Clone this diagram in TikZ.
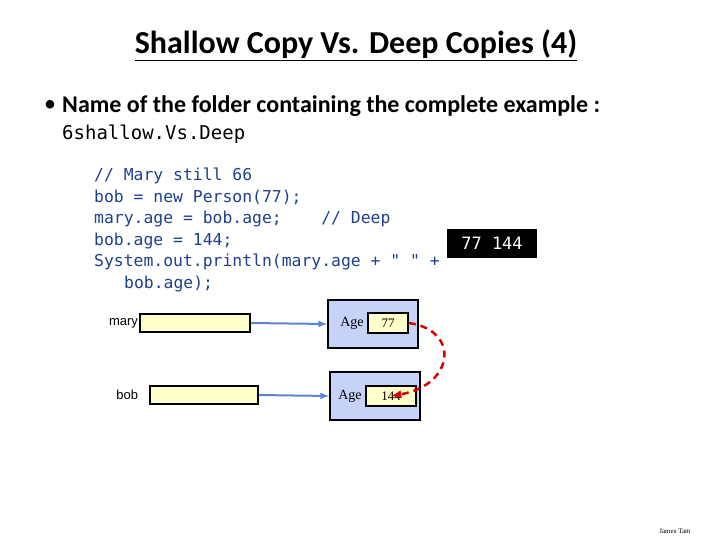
\documentclass[tikz,border=0pt]{standalone}
\usepackage{fontspec}
\setmainfont{Carlito}
\newfontfamily\codefont{DejaVu Sans Mono}
\newfontfamily\labelfont{Liberation Sans}
\newfontfamily\valfont{Liberation Serif}
\usetikzlibrary{positioning}
\definecolor{codeblue}{HTML}{1F3F8F}
\definecolor{refyellow}{HTML}{FFFFCC}
\definecolor{objblue}{HTML}{C6D2F7}
\definecolor{linkblue}{HTML}{5B86D6}
\tikzset{
  refbox/.style={draw,fill=refyellow,line width=1.6pt,minimum width=#1,minimum height=18pt,inner sep=0pt},
  objbox/.style={draw,fill=objblue,line width=1.6pt,minimum width=90pt,minimum height=48pt,inner sep=0pt},
  valbox/.style={draw,fill=refyellow,line width=1.6pt,minimum width=40pt,minimum height=20pt,inner sep=0pt,font=\valfont\fontsize{13}{13}\selectfont},
  codeline/.style={anchor=west,inner sep=0pt,text=codeblue,font=\codefont\fontsize{16.4}{16.4}\selectfont},
  link/.style={linkblue,line width=2pt,-latex}
}
\begin{document}
\begin{tikzpicture}[x=1pt,y=-1pt]
  \useasboundingbox (0,0) rectangle (720,540);
  % title and bullet
  \node (title) at (356,45) {\fontsize{32}{32}\selectfont\bfseries\underline{Shallow Copy Vs. Deep Copies (4)}};
  \node[anchor=west,inner sep=0pt] (dot) at (44,106) {\fontsize{24}{24}\selectfont\textbullet};
  \node[anchor=west,inner sep=0pt] (bullet) at (62,106) {\fontsize{24}{24}\selectfont\textbf{Name of the folder containing the complete example :}};
  \node[anchor=west,inner sep=0pt] (folder) at (62,134) {\codefont\fontsize{19}{19}\selectfont 6shallow.Vs.Deep};
  % code
  \node[codeline] (c1) at (94,176) {// Mary still 66};
  \node[codeline] (c2) at (94,197) {bob = new Person(77);};
  \node[codeline] (c3) at (94,219) {mary.age = bob.age;\ \ \ \ // Deep};
  \node[codeline] (c4) at (94,241) {bob.age = 144;};
  \node[codeline] (c5) at (94,262) {System.out.println(mary.age + " " +};
  \node[codeline] (c6) at (124,284) {bob.age);};
  \node[fill=black,text=white,minimum width=90pt,minimum height=29pt,inner sep=0pt,font=\codefont\fontsize{17}{17}\selectfont] (out) at (492,243.5) {77 144};
  % references and objects
  \node[refbox=110pt] (maryref) at (195,323) {};
  \node[left=0pt of maryref,inner sep=1pt,font=\labelfont\fontsize{13}{13}\selectfont] (mary) {mary};
  \node[refbox=108pt] (bobref) at (204,395) {};
  \node[left=10pt of bobref,inner sep=1pt,font=\labelfont\fontsize{13}{13}\selectfont] (bob) {bob};
  \node[objbox] (maryobj) at (373,324) {};
  \node[valbox] (maryval) at (388,323) {77};
  \node[anchor=east,font=\valfont\fontsize{14}{14}\selectfont] (maryage) at (maryval.west) {Age};
  \node[objbox] (bobobj) at (375,396) {};
  \node[valbox,minimum width=50pt] (bobval) at (391,396) {144};
  \node[anchor=east,font=\valfont\fontsize{14}{14}\selectfont] (bobage) at (bobval.west) {Age};
  \draw[link] (maryref.east) -- (maryobj.west);
  \draw[link] (bobref.east) -- (bobobj.west);
  \draw[red!85!black,line width=2.5pt,dash pattern=on 7pt off 5pt,-latex]
    (maryval.east) .. controls (460,330) and (455,385) .. (bobval.center);
  % footer
  \node[font=\valfont\fontsize{7}{7}\selectfont] (author) at (675,531) {James Tam};
\end{tikzpicture}
\end{document}
